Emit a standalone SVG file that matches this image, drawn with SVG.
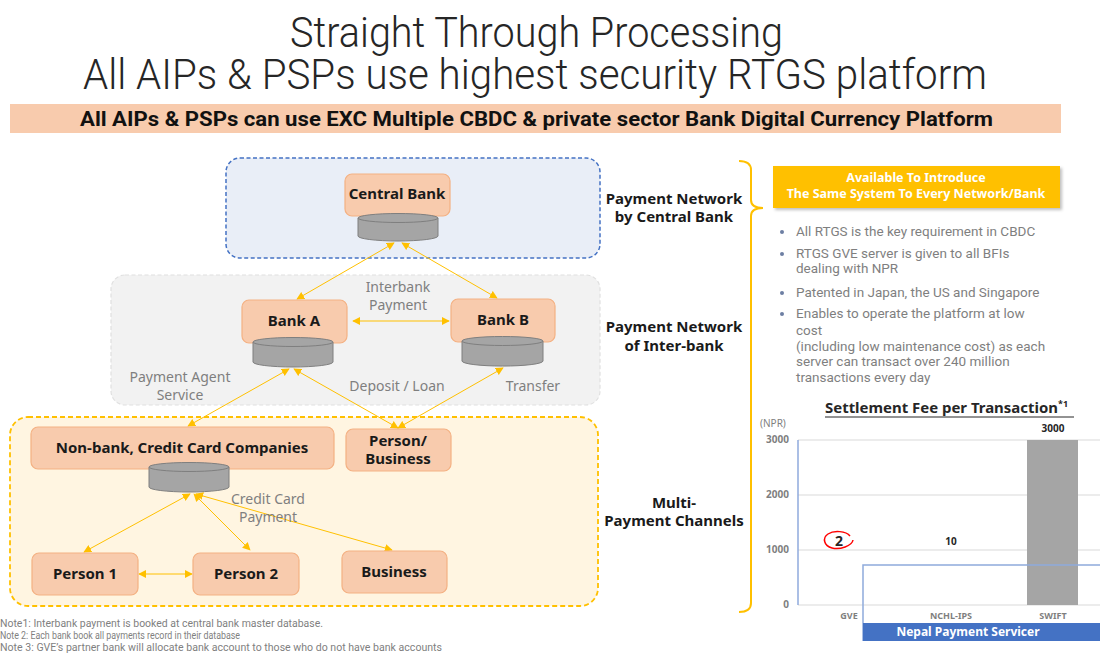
<svg xmlns="http://www.w3.org/2000/svg" width="1100" height="655" viewBox="0 0 1100 655">
  <defs>
    <style>
      .title{font-family:"Roboto","Liberation Sans",sans-serif;font-weight:300;fill:#262626}
      .banner{font-family:"Roboto","Liberation Sans",sans-serif;font-weight:700;fill:#111}
      .node{fill:#f8cbad;stroke:#f4b183;stroke-width:1.2}
      .ntxt{font-family:"Noto Sans","Liberation Sans",sans-serif;font-weight:700;font-size:15px;fill:#1a1a1a;text-anchor:middle}
      .lbl{font-family:"Noto Sans","Liberation Sans",sans-serif;font-size:14px;fill:#7f7f7f;text-anchor:middle}
      .side{font-family:"Noto Sans","Liberation Sans",sans-serif;font-weight:700;font-size:15px;fill:#1a1a1a;text-anchor:middle}
      .bul{font-family:"Roboto","Liberation Sans",sans-serif;font-size:13.5px;fill:#7f7f7f}
      .note{font-family:"Roboto","Liberation Sans",sans-serif;font-size:10px;fill:#7f7f7f}
      .ax{font-family:"Noto Sans","Liberation Sans",sans-serif;font-size:10px;fill:#7f7f7f;font-weight:700}
      .conn{stroke:#ffc000;stroke-width:1;fill:none;marker-start:url(#ah);marker-end:url(#ah)}
      .cyl-body{fill:#a5a5a5;stroke:#7f7f7f;stroke-width:1}
      .cyl-top{fill:#a5a5a5;stroke:#7f7f7f;stroke-width:1}
    </style>
    <marker id="ah" viewBox="0 0 10 10" refX="9" refY="5" markerWidth="8" markerHeight="8" markerUnits="userSpaceOnUse" orient="auto-start-reverse">
      <path d="M0,0 L10,5 L0,10 z" fill="#ffc000"/>
    </marker>
    <filter id="sh" x="-5%" y="-10%" width="115%" height="140%">
      <feDropShadow dx="2" dy="2" stdDeviation="1.5" flood-color="#000" flood-opacity="0.25"/>
    </filter>
  </defs>

  <rect width="1100" height="655" fill="#ffffff"/>

  <!-- Title -->
  <text class="title" x="290" y="47" font-size="42" textLength="493" lengthAdjust="spacingAndGlyphs">Straight Through Processing</text>
  <text class="title" x="83" y="89" font-size="42" textLength="904" lengthAdjust="spacingAndGlyphs">All AIPs &amp; PSPs use highest security RTGS platform</text>

  <!-- Banner -->
  <rect x="10" y="104" width="1051" height="29" fill="#f8cbad"/>
  <text class="banner" x="80" y="126" font-size="20" textLength="913" lengthAdjust="spacingAndGlyphs">All AIPs &amp; PSPs can use EXC Multiple CBDC &amp; private sector Bank Digital Currency Platform</text>

  <!-- Zones -->
  <g id="zone-central">
    <rect x="226" y="158" width="374" height="100" rx="14" fill="#e9eef7" stroke="#4472c4" stroke-width="1.5" stroke-dasharray="4 2.5"/>
  </g>
  <g id="zone-interbank">
    <rect x="111" y="275" width="489" height="130" rx="14" fill="#f2f2f2" stroke="#e0e0e0" stroke-width="1.2" stroke-dasharray="4 2.5"/>
  </g>
  <g id="zone-channels">
    <rect x="10" y="417" width="588" height="189" rx="18" fill="#fff5e1" stroke="#ffc000" stroke-width="1.8" stroke-dasharray="5 3"/>
  </g>

  <!-- Connectors -->
  <g id="connectors">
    <line class="conn" x1="394" y1="243" x2="297" y2="299"/>
    <line class="conn" x1="402" y1="243" x2="497" y2="298"/>
    <line class="conn" x1="353" y1="321" x2="449" y2="321"/>
    <line class="conn" x1="289" y1="369" x2="188" y2="426"/>
    <line class="conn" x1="294" y1="369" x2="398" y2="428"/>
    <line class="conn" x1="503" y1="368" x2="398" y2="428"/>
    <line class="conn" x1="190" y1="494" x2="84" y2="552"/>
    <line class="conn" x1="194" y1="494" x2="250" y2="550"/>
    <line class="conn" x1="196" y1="494" x2="392" y2="550"/>
    <line class="conn" x1="139" y1="574" x2="192" y2="574"/>
  </g>

  <!-- Connector labels -->
  <g id="connector-labels">
    <text class="lbl" x="398" y="292">Interbank</text>
    <text class="lbl" x="398" y="310">Payment</text>
    <text class="lbl" x="180" y="382">Payment Agent</text>
    <text class="lbl" x="180" y="400">Service</text>
    <text class="lbl" x="397" y="391">Deposit / Loan</text>
    <text class="lbl" x="533" y="391">Transfer</text>
    <text class="lbl" x="268" y="504">Credit Card</text>
    <text class="lbl" x="268" y="522">Payment</text>
  </g>

  <!-- Nodes -->
  <g id="central-bank">
    <rect class="node" x="345" y="174" width="105" height="42" rx="7"/>
    <text class="ntxt" x="397" y="199">Central Bank</text>
    <path class="cyl-body" d="M358,218 V236 A40,5 0 0 0 438,236 V218"/>
    <ellipse class="cyl-top" cx="398" cy="218" rx="40" ry="4.5"/>
  </g>

  <g id="bank-a">
    <rect class="node" x="242" y="300" width="105" height="43" rx="7"/>
    <text class="ntxt" x="294" y="326">Bank A</text>
    <path class="cyl-body" d="M253,342 V362 A40,5 0 0 0 333,362 V342"/>
    <ellipse class="cyl-top" cx="293" cy="342" rx="40" ry="4.5"/>
  </g>

  <g id="bank-b">
    <rect class="node" x="451" y="299" width="104" height="43" rx="7"/>
    <text class="ntxt" x="503" y="325">Bank B</text>
    <path class="cyl-body" d="M462,341 V361 A40,5 0 0 0 543,361 V341"/>
    <ellipse class="cyl-top" cx="502.5" cy="341" rx="40.5" ry="4.5"/>
  </g>

  <g id="non-bank">
    <rect class="node" x="31" y="427" width="303" height="42" rx="7"/>
    <text class="ntxt" x="182" y="453">Non-bank, Credit Card Companies</text>
    <path class="cyl-body" d="M149,467 V487 A40,5 0 0 0 229,487 V467"/>
    <ellipse class="cyl-top" cx="189" cy="467" rx="40" ry="4.5"/>
  </g>

  <g id="person-business">
    <rect class="node" x="346" y="429" width="105" height="42" rx="7"/>
    <text class="ntxt" x="398" y="446">Person/</text>
    <text class="ntxt" x="398" y="464">Business</text>
  </g>

  <g id="person-1">
    <rect class="node" x="32" y="553" width="106" height="42" rx="7"/>
    <text class="ntxt" x="85" y="579">Person 1</text>
  </g>

  <g id="person-2">
    <rect class="node" x="193" y="553" width="106" height="42" rx="7"/>
    <text class="ntxt" x="246" y="579">Person 2</text>
  </g>

  <g id="business">
    <rect class="node" x="342" y="551" width="105" height="42" rx="7"/>
    <text class="ntxt" x="394" y="577">Business</text>
  </g>

  <!-- Notes -->
  <g id="notes">
    <text class="note" x="0" y="627" textLength="323" lengthAdjust="spacingAndGlyphs">Note1: Interbank payment is booked at central bank master database.</text>
    <text class="note" x="0" y="639" textLength="240" lengthAdjust="spacingAndGlyphs">Note 2: Each bank book all payments record in their database</text>
    <text class="note" x="0" y="651" textLength="442" lengthAdjust="spacingAndGlyphs">Note 3: GVE’s partner bank will allocate bank account to those who do not have bank accounts</text>
  </g>

  <!-- Layer labels -->
  <g id="layer-labels">
    <text class="side" x="674" y="204">Payment Network</text>
    <text class="side" x="674" y="222">by Central Bank</text>
    <text class="side" x="674" y="332">Payment Network</text>
    <text class="side" x="674" y="351">of Inter-bank</text>
    <text class="side" x="674" y="508">Multi-</text>
    <text class="side" x="674" y="526">Payment Channels</text>
  </g>

  <!-- Brace -->
  <path d="M739,161 Q751,161 751,170 V200 Q751,208 763,208 Q751,208 751,216 V603 Q751,612 739,612" fill="none" stroke="#ffc000" stroke-width="2"/>

  <!-- Highlight box -->
  <g id="highlight">
    <rect x="773" y="166" width="287" height="42" fill="#ffc000" filter="url(#sh)"/>
    <text x="916" y="182" font-family="Noto Sans, Liberation Sans, sans-serif" font-size="12.5" font-weight="700" fill="#ffffff" text-anchor="middle">Available To Introduce</text>
    <text x="916" y="198" font-family="Noto Sans, Liberation Sans, sans-serif" font-size="12.5" font-weight="700" fill="#ffffff" text-anchor="middle">The Same System To Every Network/Bank</text>
  </g>

  <!-- Bullets -->
  <g id="bullets">
    <circle cx="782" cy="232" r="2" fill="#6d7fa3"/>
    <text class="bul" x="796" y="236">All RTGS is the key requirement in CBDC</text>
    <circle cx="782" cy="254" r="2" fill="#6d7fa3"/>
    <text class="bul" x="796" y="258">RTGS GVE server is given to all BFIs</text>
    <text class="bul" x="796" y="273">dealing with NPR</text>
    <circle cx="782" cy="293" r="2" fill="#6d7fa3"/>
    <text class="bul" x="796" y="297">Patented in Japan, the US and Singapore</text>
    <circle cx="782" cy="314" r="2" fill="#6d7fa3"/>
    <text class="bul" x="796" y="318">Enables to operate the platform at low</text>
    <text class="bul" x="796" y="335">cost</text>
    <text class="bul" x="796" y="351">(including low maintenance cost) as each</text>
    <text class="bul" x="796" y="366">server can transact over 240 million</text>
    <text class="bul" x="796" y="382">transactions every day</text>
  </g>

  <!-- Chart -->
  <g id="chart">
    <text x="825" y="413" font-family="Noto Sans, Liberation Sans, sans-serif" font-size="14.5" font-weight="700" fill="#262626"><tspan textLength="233" lengthAdjust="spacingAndGlyphs">Settlement Fee per Transaction</tspan><tspan font-size="9" dy="-6">*1</tspan></text>
    <line x1="825" y1="417" x2="1074" y2="417" stroke="#262626" stroke-width="1"/>
    <text x="760" y="427" font-family="Noto Sans, Liberation Sans, sans-serif" font-size="10" fill="#7f7f7f">(NPR)</text>
    <g stroke="#d9d9d9" stroke-width="1">
      <line x1="798" y1="440" x2="1100" y2="440"/>
      <line x1="798" y1="495" x2="1100" y2="495"/>
      <line x1="798" y1="550" x2="1100" y2="550"/>
      <line x1="798" y1="605" x2="1100" y2="605"/>
    </g>
    <g class="ax" text-anchor="end">
      <text x="789" y="443">3000</text>
      <text x="789" y="498">2000</text>
      <text x="789" y="553">1000</text>
      <text x="789" y="608">0</text>
    </g>
    <rect x="1027" y="440" width="51" height="165" fill="#a5a5a5"/>
    <line x1="798" y1="440" x2="798" y2="605" stroke="#8faadc" stroke-width="1.5"/>
    <path d="M1100,565 H863 V641" fill="none" stroke="#8faadc" stroke-width="1.5"/>
    <text class="ax" x="1053" y="432" text-anchor="middle" style="fill:#262626">3000</text>
    <text class="ax" x="951" y="545" text-anchor="middle" style="fill:#262626">10</text>
    <text x="839" y="546" font-family="Noto Sans, Liberation Sans, sans-serif" font-size="14" font-weight="700" fill="#262626" text-anchor="middle">2</text>
    <path d="M850,536 C846,531 834,530 828,534 C822,538 824,546 832,548 C840,550 852,546 853,540" fill="none" stroke="#ff0000" stroke-width="1.5"/>
    <g class="ax" text-anchor="middle">
      <text x="849" y="619" font-size="9">GVE</text>
      <text x="951" y="619" font-size="9">NCHL-IPS</text>
      <text x="1053" y="619" font-size="9">SWIFT</text>
    </g>
    <rect x="863" y="623" width="237" height="18" fill="#4472c4"/>
    <text x="968" y="636" font-family="Noto Sans, Liberation Sans, sans-serif" font-size="12" font-weight="700" fill="#ffffff" text-anchor="middle">Nepal Payment Servicer</text>
  </g>
</svg>
